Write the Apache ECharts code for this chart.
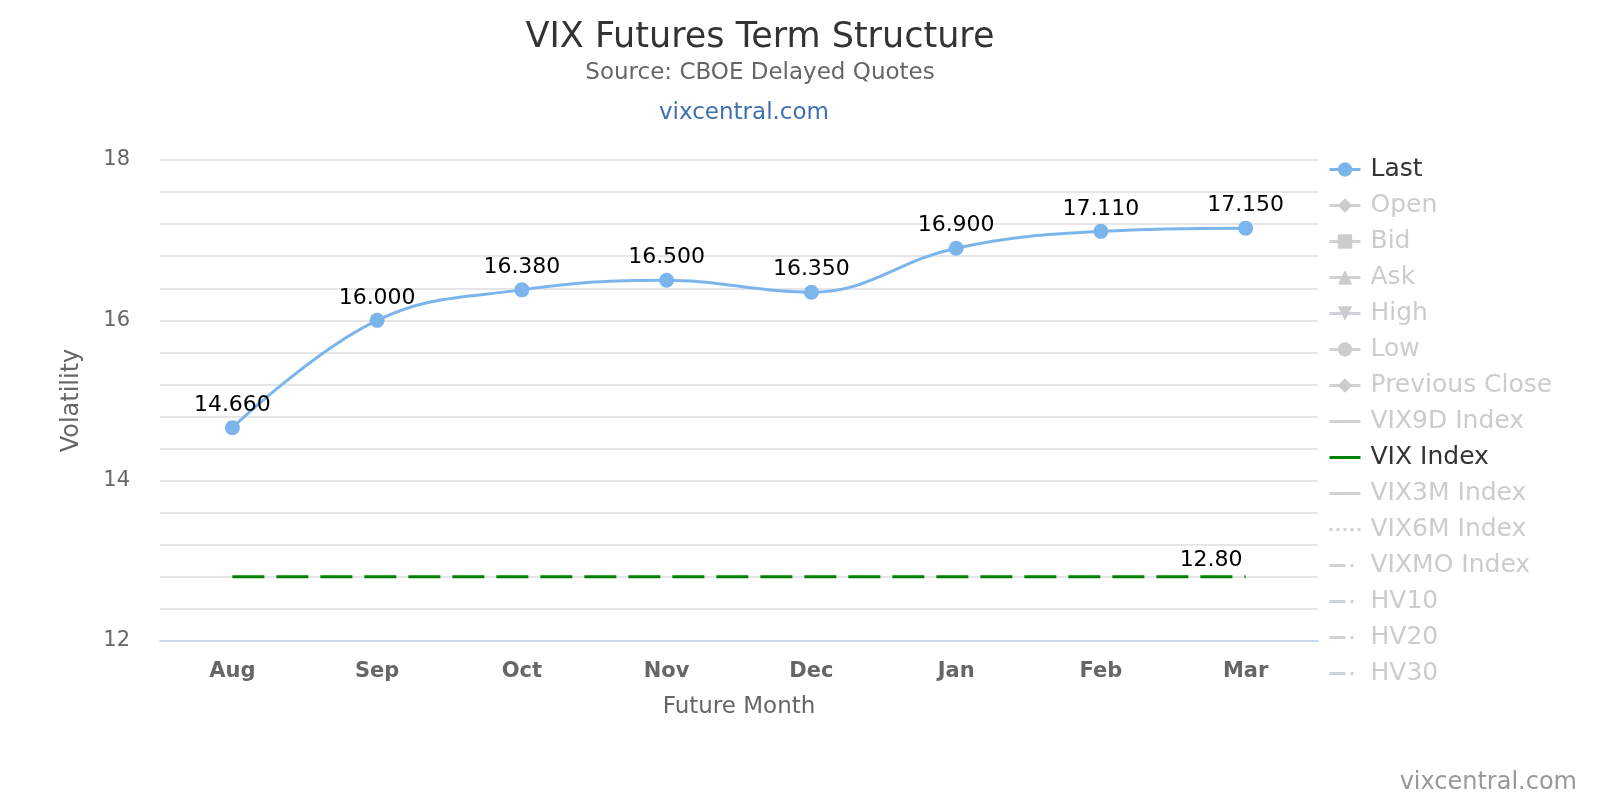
<!DOCTYPE html>
<html>
<head>
<meta charset="utf-8">
<script src="https://cdn.jsdelivr.net/npm/echarts@6/dist/echarts.min.js"></script>
<style>
  html, body { margin: 0; padding: 0; background: #fff; }
  #container { width: 1600px; height: 800px; }
</style>
</head>
<body>
<div id="container"></div>
<script>
// data
var months = ["Aug", "Sep", "Oct", "Nov", "Dec", "Jan", "Feb", "Mar"];
var lastValues = [14.66, 16.0, 16.38, 16.5, 16.35, 16.9, 17.11, 17.15];
var vixValues = [12.8, 12.8, 12.8, 12.8, 12.8, 12.8, 12.8, 12.8];
var hiddenSeries = [
  { name: "Open", symbol: "diamond" },
  { name: "Bid", symbol: "rect" },
  { name: "Ask", symbol: "triangle" },
  { name: "High", symbol: "path://M0,0L10,0L5,10Z" },
  { name: "Low", symbol: "circle" },
  { name: "Previous Close", symbol: "diamond" },
  { name: "VIX9D Index", symbol: "none", dash: "solid" },
  { name: "VIX3M Index", symbol: "none", dash: "solid" },
  { name: "VIX6M Index", symbol: "none", dash: [3, 4] },
  { name: "VIXMO Index", symbol: "none", dash: [16, 5, 3, 12] },
  { name: "HV10", symbol: "none", dash: [16, 5, 3, 12] },
  { name: "HV20", symbol: "none", dash: [16, 5, 3, 12] },
  { name: "HV30", symbol: "none", dash: [16, 5, 3, 12] }
];

var font = "DejaVu Sans";
var chart = echarts.init(document.getElementById("container"));

var series = [
  {
    name: "Last",
    type: "line",
    data: lastValues,
    smooth: 0.4,
    symbol: "circle",
    symbolSize: 15,
    color: "#7cb5ec",
    lineStyle: { width: 3 },
    label: {
      show: true,
      position: "top",
      distance: 4,
      formatter: function (p) { return p.value.toFixed(3); },
      color: "#000",
      fontSize: 22,
      fontFamily: font
    },
    z: 3
  }
];
hiddenSeries.forEach(function (s) {
  series.push({
    name: s.name,
    type: "line",
    data: [],
    symbol: s.symbol,
    symbolSize: 12,
    color: "#999",
    lineStyle: { width: 3, type: s.dash || "solid" }
  });
});
series.splice(8, 0, {
  name: "VIX Index",
  type: "line",
  data: vixValues,
  symbol: "none",
  color: "#008000",
  lineStyle: { width: 3, type: [32, 12] },
  endLabel: {
    show: true,
    distance: 0,
    offset: [-66, -17],
    formatter: function (p) { return p.value.toFixed(2); },
    color: "#000",
    fontSize: 22,
    fontFamily: font
  },
  z: 2
});

var selected = {};
hiddenSeries.forEach(function (s) { selected[s.name] = false; });

// line-only series get no marker in the legend
var legendData = series.map(function (s) {
  var d = { name: s.name, lineStyle: { type: s.lineStyle.type } };
  if (s.symbol === "none") d.itemStyle = { opacity: 0 };
  return d;
});

var option = {
  backgroundColor: "#fff",
  animation: false,
  title: [
    {
      text: "VIX Futures Term Structure",
      left: 755,
      top: 15,
      textAlign: "center",
      textStyle: { fontFamily: font, fontSize: 35, fontWeight: "normal", color: "#333" }
    },
    {
      text: "Source: CBOE Delayed Quotes",
      left: 755,
      top: 57,
      textAlign: "center",
      textStyle: { fontFamily: font, fontSize: 23, fontWeight: "normal", color: "#666" }
    },
    {
      text: "vixcentral.com",
      left: 739,
      top: 97,
      textAlign: "center",
      textStyle: { fontFamily: font, fontSize: 23, fontWeight: "normal", color: "#3e6fb0" }
    },
    {
      text: "vixcentral.com",
      right: 18,
      top: 766,
      textStyle: { fontFamily: font, fontSize: 24, fontWeight: "normal", color: "#999" }
    }
  ],
  legend: {
    orient: "vertical",
    left: 1323,
    top: 152,
    itemGap: 11,
    itemWidth: 31,
    itemHeight: 18,
    inactiveColor: "#cccccc",
    selected: selected,
    lineStyle: { width: 3, inactiveWidth: 3 },
    textStyle: { fontFamily: font, fontSize: 25, lineHeight: 25, color: "#333", padding: [0, 0, 0, 5] },
    data: legendData
  },
  grid: { left: 160, right: 282, top: 160, bottom: 159, containLabel: false },
  xAxis: {
    type: "category",
    data: months,
    name: "Future Month",
    nameLocation: "middle",
    nameGap: 55,
    nameTextStyle: { fontFamily: font, fontSize: 23, color: "#666" },
    z: 5,
    axisLine: { lineStyle: { color: "#ccd6eb", width: 2 } },
    axisTick: { show: false },
    axisLabel: { fontFamily: font, fontSize: 21, fontWeight: "bold", color: "#666", margin: 20 }
  },
  yAxis: {
    type: "value",
    min: 12,
    max: 18,
    interval: 0.4,
    name: "Volatility",
    nameLocation: "middle",
    nameGap: 76,
    nameTextStyle: { fontFamily: font, fontSize: 24, color: "#666" },
    axisLine: { show: false },
    axisTick: { show: false },
    splitLine: { lineStyle: { color: "#e6e6e6", width: 2 } },
    axisLabel: {
      fontFamily: font,
      fontSize: 21,
      color: "#666",
      margin: 30,
      formatter: function (v) {
        var r = Math.round(v);
        return Math.abs(v - r) < 1e-6 && r % 2 === 0 ? String(r) : "";
      }
    }
  },
  series: series
};

chart.setOption(option);
</script>
</body>
</html>
